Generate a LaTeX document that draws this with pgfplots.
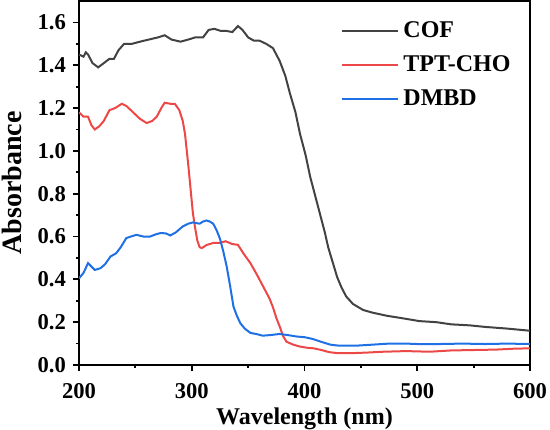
\documentclass[border=0pt]{standalone}
\usepackage{pgfplots}
\pgfplotsset{compat=1.18}
\usetikzlibrary{calc}
\usepackage{fontspec}
\setmainfont{Liberation Serif}
\definecolor{cofgray}{RGB}{66,66,66}
\definecolor{tptred}{RGB}{236,72,72}
\definecolor{dmbdblue}{RGB}{30,112,228}
\begin{document}
\begin{tikzpicture}
\begin{axis}[
  scale only axis,
  width=225.5pt, height=182pt,
  xmin=200, xmax=600, ymin=0, ymax=1.7,
  xtick={200,300,400,500,600},
  xticklabels={\textbf{200},\textbf{300},\textbf{400},\textbf{500},\textbf{600}},
  minor xtick={250,350,450,550},
  ytick={0,0.2,0.4,0.6,0.8,1.0,1.2,1.4,1.6},
  yticklabels={\textbf{0.0},\textbf{0.2},\textbf{0.4},\textbf{0.6},\textbf{0.8},\textbf{1.0},\textbf{1.2},\textbf{1.4},\textbf{1.6}},
  minor ytick={0.1,0.3,0.5,0.7,0.9,1.1,1.3,1.5},
  tick pos=left,
  tick align=outside,
  major tick length=3pt,
  minor tick length=1.6pt,
  every tick/.style={black, line width=0.9pt},
  axis line style={line width=1pt},
  every tick label/.append style={font=\fontsize{11.3}{12}\selectfont\bfseries},
  xticklabel style={yshift=-5pt, inner sep=1pt},
  xlabel={Wavelength (nm)},
  ylabel={Absorbance},
  xlabel style={font=\fontsize{12}{14}\selectfont\bfseries, at={(axis description cs:0.5,0)}, anchor=base, yshift=-29.5pt, inner sep=0pt},
  ylabel style={font=\fontsize{14}{16}\selectfont\bfseries, yshift=1pt},
  legend style={at={(0.581,0.955)}, anchor=north west, draw=none, fill=none,
    font=\fontsize{12}{14}\selectfont\bfseries, row sep=3.5pt,
    inner sep=0pt},
  legend cell align=left,
  legend image code/.code={\draw[#1] (0pt,0pt) -- (28pt,0pt);},
  every axis plot/.append style={line width=1pt},
]
\addplot[cofgray] coordinates {
(200,1.45) (204,1.44) (206,1.46) (208,1.45) (212,1.41) (217,1.39) (222,1.41) (227,1.43) (231,1.43) (235,1.47) (240,1.50) (247,1.50) (254,1.51) (262,1.52) (270,1.53) (276,1.54) (282,1.52) (290,1.51) (297,1.52) (303,1.53) (310,1.53) (315,1.565) (320,1.57) (326,1.56) (331,1.56) (336,1.555) (341,1.583) (345,1.565) (350,1.53) (355,1.515) (360,1.515) (366,1.50) (372,1.48) (378,1.42) (383,1.35) (387,1.27) (392,1.18) (396,1.08) (401,0.98) (405,0.88) (410,0.78) (414,0.70) (418,0.62) (421,0.55) (425,0.48) (429,0.41) (433,0.36) (437,0.32) (443,0.285) (452,0.257) (460,0.245) (473,0.23) (485,0.22) (502,0.205) (517,0.20) (530,0.19) (547,0.185) (560,0.178) (580,0.17) (600,0.16)
};
\addlegendentry{COF}
\addplot[tptred] coordinates {
(200,1.18) (204,1.16) (208,1.16) (211,1.12) (214,1.10) (218,1.115) (222,1.14) (227,1.19) (232,1.20) (238,1.22) (242,1.21) (248,1.18) (254,1.15) (260,1.13) (265,1.14) (269,1.16) (273,1.20) (276,1.225) (281,1.22) (285,1.22) (289,1.19) (292,1.14) (294,1.08) (297,0.93) (299,0.82) (301,0.71) (303,0.64) (305,0.58) (307,0.55) (309,0.546) (313,0.56) (319,0.57) (325,0.57) (330,0.578) (336,0.565) (341,0.561) (346,0.52) (352,0.476) (358,0.42) (364,0.36) (369,0.31) (372,0.27) (375,0.22) (378,0.18) (381,0.135) (384,0.109) (390,0.095) (396,0.086) (403,0.08) (408,0.078) (415,0.07) (422,0.06) (430,0.055) (440,0.055) (455,0.058) (470,0.062) (490,0.065) (511,0.062) (530,0.068) (550,0.07) (570,0.072) (585,0.076) (600,0.078)
};
\addlegendentry{TPT-CHO}
\addplot[dmbdblue] coordinates {
(200,0.405) (204,0.43) (208,0.476) (211,0.46) (214,0.444) (219,0.452) (223,0.47) (228,0.507) (233,0.522) (237,0.55) (242,0.593) (246,0.60) (251,0.608) (257,0.60) (263,0.60) (268,0.61) (272,0.616) (277,0.615) (281,0.605) (286,0.62) (292,0.647) (297,0.66) (301,0.666) (304,0.663) (307,0.66) (310,0.67) (313,0.675) (316,0.67) (319,0.66) (322,0.63) (325,0.59) (328,0.53) (331,0.46) (334,0.37) (337,0.273) (340,0.23) (343,0.196) (347,0.17) (352,0.15) (357,0.145) (363,0.137) (370,0.14) (378,0.145) (385,0.14) (393,0.133) (400,0.13) (407,0.122) (415,0.108) (423,0.095) (431,0.09) (445,0.09) (460,0.095) (475,0.10) (490,0.10) (505,0.097) (520,0.098) (540,0.10) (560,0.098) (580,0.10) (600,0.098)
};
\addlegendentry{DMBD}
\end{axis}
\pgfresetboundingbox
\path ($(current axis.south west)+(-39.5pt,-32pt)$) rectangle ($(current axis.north east)+(10pt,0.5pt)$);
\end{tikzpicture}
\end{document}
